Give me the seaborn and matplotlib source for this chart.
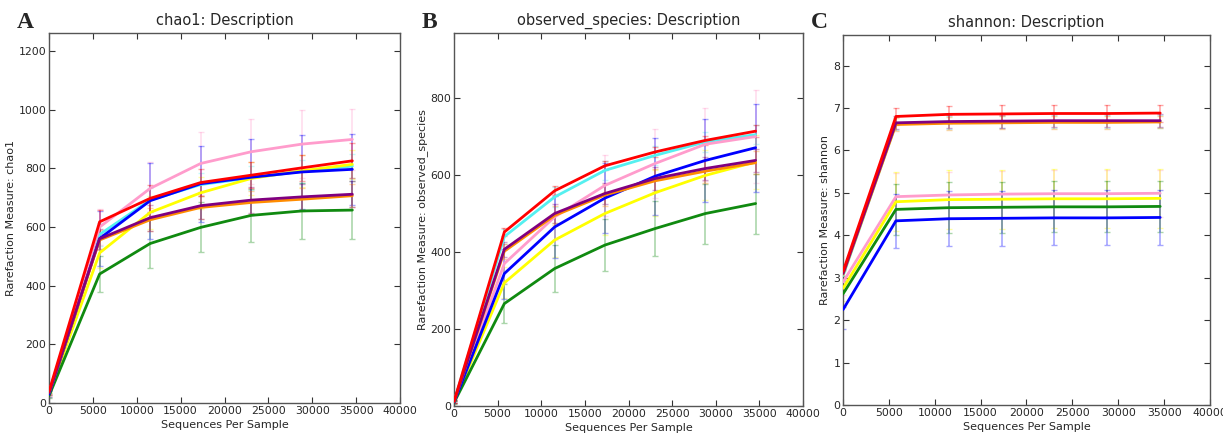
import numpy as np
import pandas as pd
import matplotlib
matplotlib.use("Agg")
import matplotlib.pyplot as plt
import seaborn as sns

# ---------------- data ----------------
depths = [10, 5770, 11530, 17290, 23050, 28810, 34570]
groups = ["cyan", "pink", "yellow", "green", "blue", "orange", "purple", "red"]
colors = {"cyan": "#55f0f0", "pink": "#ff9ccc", "yellow": "#ffff00", "green": "#108a10",
          "blue": "#0000ff", "orange": "#ff8c00", "purple": "#800080", "red": "#ff0000"}

# chao1
chao1_red = [40, 618, 698, 752, 777, 802, 826]
chao1_blue = [30, 561, 690, 748, 770, 788, 797]
chao1_pink = [35, 600, 732, 817, 857, 883, 899]
chao1_yellow = [30, 512, 650, 717, 766, 792, 814]
chao1_cyan = [35, 575, 692, 745, 768, 790, 808]
chao1_green = [25, 440, 544, 599, 640, 655, 658]
chao1_purple = [35, 560, 632, 673, 692, 703, 712]
chao1_orange = [35, 556, 625, 667, 684, 695, 707]
chao1_err_red = [10, 40, 45, 45, 45, 45, 60]
chao1_err_blue = [10, 95, 130, 130, 130, 125, 120]
chao1_err_pink = [10, 60, 90, 108, 110, 115, 105]
chao1_err_yellow = [8, 50, 55, 55, 55, 55, 50]
chao1_err_cyan = [8, 40, 40, 40, 40, 40, 40]
chao1_err_green = [8, 60, 85, 85, 90, 97, 100]
chao1_err_purple = [8, 35, 45, 45, 45, 45, 45]
chao1_err_orange = [8, 35, 40, 40, 40, 40, 40]

# observed species
obs_red = [12, 452, 559, 624, 660, 690, 714]
obs_cyan = [12, 440, 543, 612, 651, 686, 705]
obs_purple = [12, 407, 500, 552, 591, 617, 638]
obs_orange = [12, 402, 495, 548, 585, 610, 632]
obs_blue = [10, 344, 465, 540, 597, 638, 671]
obs_pink = [11, 370, 491, 573, 630, 680, 700]
obs_yellow = [10, 320, 431, 500, 554, 599, 634]
obs_green = [9, 266, 357, 418, 461, 500, 526]
obs_err_red = [3, 10, 12, 12, 12, 12, 15]
obs_err_cyan = [3, 20, 25, 25, 25, 25, 25]
obs_err_purple = [3, 20, 25, 28, 30, 30, 30]
obs_err_orange = [3, 20, 25, 28, 30, 30, 30]
obs_err_blue = [3, 65, 80, 90, 100, 107, 114]
obs_err_pink = [3, 50, 60, 80, 90, 95, 120]
obs_err_yellow = [3, 40, 45, 55, 60, 65, 70]
obs_err_green = [3, 50, 60, 68, 71, 78, 78]

# shannon
sh_red = [3.15, 6.80, 6.85, 6.86, 6.87, 6.87, 6.88]
sh_purple = [3.10, 6.65, 6.68, 6.69, 6.70, 6.70, 6.70]
sh_orange = [3.08, 6.61, 6.64, 6.65, 6.66, 6.66, 6.67]
sh_cyan = [3.05, 6.63, 6.66, 6.67, 6.68, 6.68, 6.68]
sh_pink = [2.90, 4.91, 4.95, 4.97, 4.98, 4.98, 4.99]
sh_yellow = [2.75, 4.79, 4.84, 4.85, 4.86, 4.86, 4.87]
sh_green = [2.62, 4.61, 4.65, 4.66, 4.67, 4.67, 4.68]
sh_blue = [2.25, 4.34, 4.39, 4.40, 4.41, 4.41, 4.42]
sh_err_red = [0.10, 0.20, 0.20, 0.20, 0.20, 0.20, 0.20]
sh_err_purple = [0.10, 0.15, 0.15, 0.15, 0.15, 0.15, 0.15]
sh_err_orange = [0.10, 0.15, 0.15, 0.15, 0.15, 0.15, 0.15]
sh_err_cyan = [0.10, 0.15, 0.15, 0.15, 0.15, 0.15, 0.15]
sh_err_pink = [0.30, 0.55, 0.55, 0.55, 0.55, 0.55, 0.55]
sh_err_yellow = [0.30, 0.70, 0.70, 0.70, 0.70, 0.70, 0.70]
sh_err_green = [0.30, 0.60, 0.60, 0.60, 0.60, 0.60, 0.60]
sh_err_blue = [0.45, 0.63, 0.65, 0.65, 0.65, 0.65, 0.65]

x_ticks = [0, 5000, 10000, 15000, 20000, 25000, 30000, 35000, 40000]

panels = [
    dict(letter="A", title="chao1: Description", ylabel="Rarefaction Measure: chao1",
         ylim=(0, 1262), yticks=[0, 200, 400, 600, 800, 1000, 1200],
         vals={"red": chao1_red, "blue": chao1_blue, "pink": chao1_pink, "yellow": chao1_yellow,
               "cyan": chao1_cyan, "green": chao1_green, "purple": chao1_purple, "orange": chao1_orange},
         errs={"red": chao1_err_red, "blue": chao1_err_blue, "pink": chao1_err_pink,
               "yellow": chao1_err_yellow, "cyan": chao1_err_cyan, "green": chao1_err_green,
               "purple": chao1_err_purple, "orange": chao1_err_orange},
         rect=(49, 33, 400, 403)),
    dict(letter="B", title="observed_species: Description", ylabel="Rarefaction Measure: observed_species",
         ylim=(0, 969), yticks=[0, 200, 400, 600, 800],
         vals={"red": obs_red, "blue": obs_blue, "pink": obs_pink, "yellow": obs_yellow,
               "cyan": obs_cyan, "green": obs_green, "purple": obs_purple, "orange": obs_orange},
         errs={"red": obs_err_red, "blue": obs_err_blue, "pink": obs_err_pink,
               "yellow": obs_err_yellow, "cyan": obs_err_cyan, "green": obs_err_green,
               "purple": obs_err_purple, "orange": obs_err_orange},
         rect=(454, 33, 803, 406)),
    dict(letter="C", title="shannon: Description", ylabel="Rarefaction Measure: shannon",
         ylim=(0, 8.72), yticks=[0, 1, 2, 3, 4, 5, 6, 7, 8],
         vals={"red": sh_red, "blue": sh_blue, "pink": sh_pink, "yellow": sh_yellow,
               "cyan": sh_cyan, "green": sh_green, "purple": sh_purple, "orange": sh_orange},
         errs={"red": sh_err_red, "blue": sh_err_blue, "pink": sh_err_pink,
               "yellow": sh_err_yellow, "cyan": sh_err_cyan, "green": sh_err_green,
               "purple": sh_err_purple, "orange": sh_err_orange},
         rect=(843, 35, 1210, 405)),
]

sns.set_style("white")
plt.rcParams["font.family"] = ["DejaVu Sans"]

W, H = 1223, 437
fig = plt.figure(figsize=(W / 100, H / 100), dpi=100)

for p in panels:
    l, t, r, b = p["rect"]
    ax = fig.add_axes([l / W, 1 - b / H, (r - l) / W, (b - t) / H])
    rows = []
    for g in groups:
        for d, v in zip(depths, p["vals"][g]):
            rows.append({"depth": d, "value": v, "group": g})
    df = pd.DataFrame(rows)
    # error bars
    for g in groups:
        ax.errorbar(depths, p["vals"][g], yerr=p["errs"][g], fmt="none",
                    ecolor=colors[g], alpha=0.35, elinewidth=1.2, capsize=2.5, capthick=1.0,
                    zorder=1)
    sns.lineplot(data=df, x="depth", y="value", hue="group", hue_order=groups,
                 palette=colors, estimator=None, errorbar=None, legend=False,
                 linewidth=2.0, ax=ax, zorder=3)
    ax.set_xlim(0, 40000)
    ax.set_ylim(*p["ylim"])
    ax.set_xticks(x_ticks)
    ax.set_yticks(p["yticks"])
    ax.tick_params(axis="both", which="both", direction="in", top=True, right=True,
                   bottom=True, left=True, length=4, width=0.8,
                   labelsize=7.8, color="#333333", pad=2)
    for s in ax.spines.values():
        s.set_color("#555555")
        s.set_linewidth(1.0)
    ax.set_title(p["title"], fontsize=10.5, pad=6)
    ax.set_xlabel("Sequences Per Sample", fontsize=8, labelpad=3)
    ax.set_ylabel(p["ylabel"], fontsize=8, labelpad=2)
    fig.text((l - 32) / W, 1 - 22 / H, p["letter"], fontsize=17, fontweight="bold",
             family="Liberation Serif", ha="left", va="center")

fig.savefig("out.png", dpi=100)
